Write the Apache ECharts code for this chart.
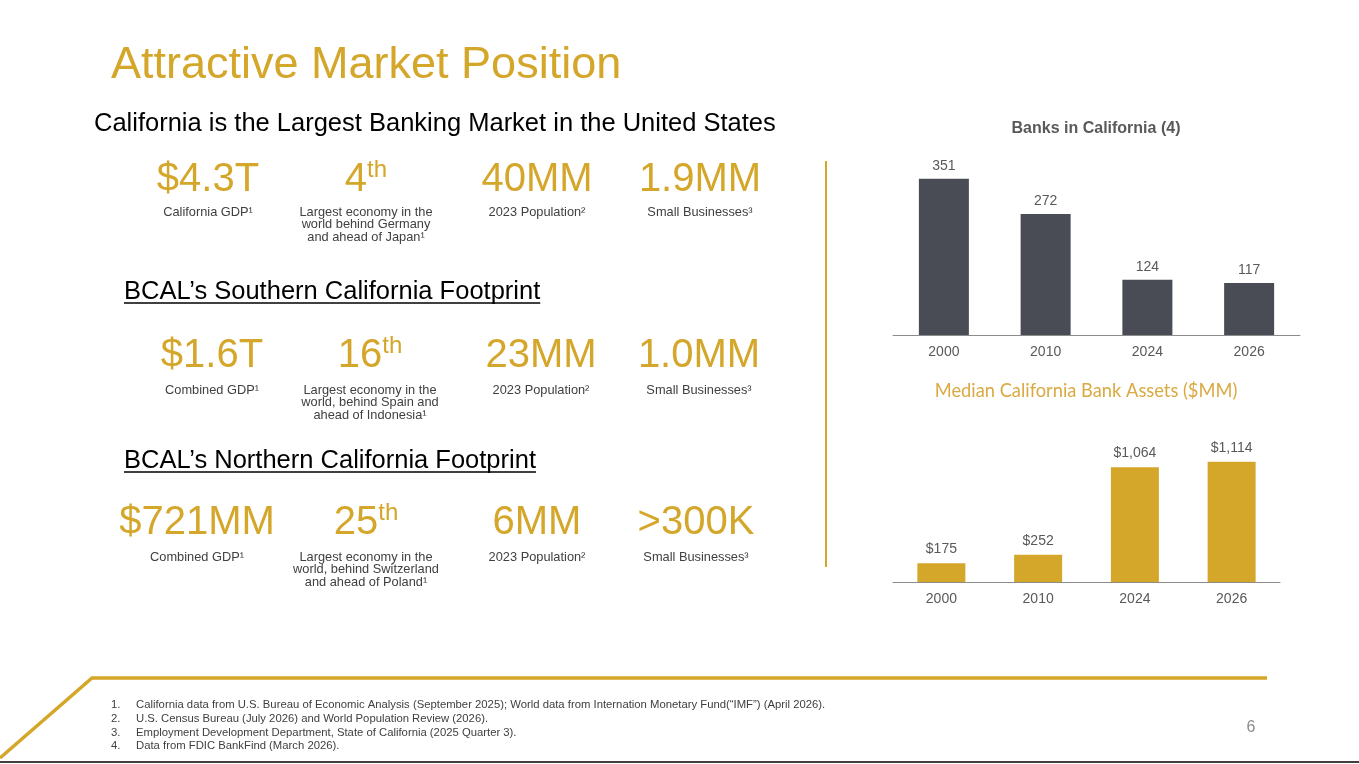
<!DOCTYPE html>
<html>
<head>
<meta charset="utf-8">
<title>Attractive Market Position</title>
<script src="https://cdn.jsdelivr.net/npm/echarts@6/dist/echarts.min.js"></script>
<style>
  html, body { margin: 0; padding: 0; background: #fff; }
  #mainContent { width: 1359px; height: 764px; }
</style>
</head>
<body>
<div id="mainContent"></div>
<script>
// data
var years = ['2000', '2010', '2024', '2026'];
var banksInCalifornia = [351, 272, 124, 117];
var medianBankAssets = [175, 252, 1064, 1114];

var pageTitle = 'Attractive Market Position';
var leadLine = 'California is the Largest Banking Market in the United States';
var sectionHeads = ['BCAL’s Southern California Footprint', 'BCAL’s Northern California Footprint'];

var caFigures = ['$4.3T', '4th', '40MM', '1.9MM'];
var caNotes = ['California GDP¹', 'Largest economy in the\nworld behind Germany\nand ahead of Japan¹', '2023 Population²', 'Small Businesses³'];
var socalFigures = ['$1.6T', '16th', '23MM', '1.0MM'];
var socalNotes = ['Combined GDP¹', 'Largest economy in the\nworld, behind Spain and\nahead of Indonesia¹', '2023 Population²', 'Small Businesses³'];
var norcalFigures = ['$721MM', '25th', '6MM', '>300K'];
var norcalNotes = ['Combined GDP¹', 'Largest economy in the\nworld, behind Switzerland\nand ahead of Poland¹', '2023 Population²', 'Small Businesses³'];

var footnotes = [
    'California data from U.S. Bureau of Economic Analysis (September 2025); World data from Internation Monetary Fund(“IMF”) (April 2026).',
    'U.S. Census Bureau (July 2026) and World Population Review (2026).',
    'Employment Development Department, State of California (2025 Quarter 3).',
    'Data from FDIC BankFind (March 2026).'
];

var GOLD = '#D4A62A';
var SANS = 'Arial, "Liberation Sans", sans-serif';

var myChart = echarts.init(document.getElementById('mainContent'));

// canvas measure, used for the underlines
var measureCtx = document.createElement('canvas').getContext('2d');
function textWidth(str, size) {
    measureCtx.font = size + 'px ' + SANS;
    return measureCtx.measureText(str).width;
}

var graphics = [];

function addText(x, y, text, style) {
    graphics.push({
        type: 'text', x: x, y: y, silent: true,
        style: Object.assign({ text: text, fontFamily: SANS }, style)
    });
}

function addLine(x1, y1, x2, y2, color, w) {
    graphics.push({
        type: 'line', silent: true,
        shape: { x1: x1, y1: y1, x2: x2, y2: y2 },
        style: { stroke: color, lineWidth: w }
    });
}

// headline + lead
addText(111, 66, pageTitle, { fill: GOLD, fontSize: 45, align: 'left', verticalAlign: 'middle' });
addText(94, 124, leadLine, { fill: '#000', fontSize: 25.5, align: 'left', verticalAlign: 'middle' });

// section heads with underline
var headY = [292, 461];
sectionHeads.forEach(function (h, i) {
    addText(124, headY[i], h, { fill: '#000', fontSize: 25.5, align: 'left', verticalAlign: 'middle' });
    addLine(124, headY[i] + 11, 124 + textWidth(h, 25.5), headY[i] + 11, '#000', 1.5);
});

// stat blocks
var statRows = [
    { figs: caFigures, notes: caNotes, cx: [208, 366, 537, 700], figY: 180, noteY: 206 },
    { figs: socalFigures, notes: socalNotes, cx: [212, 370, 541, 699], figY: 356, noteY: 384 },
    { figs: norcalFigures, notes: norcalNotes, cx: [197, 366, 537, 696], figY: 523, noteY: 551 }
];
statRows.forEach(function (row) {
    row.figs.forEach(function (f, j) {
        var m = f.match(/^(\d+)(st|nd|rd|th)$/);
        if (m) {
            addText(row.cx[j], row.figY, '{n|' + m[1] + '}{s|' + m[2] + '}', {
                fill: GOLD, align: 'center', verticalAlign: 'middle',
                rich: {
                    n: { fontSize: 40, fontFamily: SANS, fill: GOLD, lineHeight: 44 },
                    s: { fontSize: 24, fontFamily: SANS, fill: GOLD, verticalAlign: 'top', lineHeight: 24 }
                }
            });
        } else {
            addText(row.cx[j], row.figY, f, { fill: GOLD, fontSize: 40, align: 'center', verticalAlign: 'middle' });
        }
        addText(row.cx[j], row.noteY, row.notes[j], {
            fill: '#404040', fontSize: 12.8, lineHeight: 12.5, align: 'center', verticalAlign: 'top'
        });
    });
});

// chart titles
addText(1096, 129, 'Banks in California (4)', {
    fill: '#595959', fontSize: 16, fontWeight: 'bold', align: 'center', verticalAlign: 'middle'
});
addText(1086, 391, 'Median California Bank Assets ($MM)', {
    fill: '#DAA942', fontSize: 18.3, fontFamily: 'Lato, "Open Sans", sans-serif', align: 'center', verticalAlign: 'middle'
});

// divider + footer art
addLine(826, 161, 826, 567, GOLD, 2);
graphics.push({
    type: 'polyline', silent: true,
    shape: { points: [[0, 758], [92, 678], [1267, 678]] },
    style: { stroke: GOLD, lineWidth: 3.5, fill: null }
});
addLine(0, 762, 1359, 762, '#000', 1.5);

// footnotes
footnotes.forEach(function (t, i) {
    var y = 705 + i * 13.7;
    addText(111, y, (i + 1) + '.', { fill: '#404040', fontSize: 11.3, align: 'left', verticalAlign: 'middle' });
    addText(136, y, t, { fill: '#404040', fontSize: 11.3, align: 'left', verticalAlign: 'middle' });
});

addText(1251, 728, '6', { fill: '#8C8C8C', fontSize: 16, align: 'center', verticalAlign: 'middle' });

function money(v) {
    return '$' + v.toString().replace(/\B(?=(\d{3})+(?!\d))/g, ',');
}

option = {
    animation: false,
    grid: [
        { left: 893, width: 407, top: 157, height: 178 },
        { left: 893, width: 387, top: 431, height: 151 }
    ],
    xAxis: [
        {
            gridIndex: 0, type: 'category', data: years,
            axisLine: { lineStyle: { color: '#8C8C8C', width: 1 } },
            axisTick: { show: false },
            axisLabel: { color: '#595959', fontSize: 14, fontFamily: SANS, margin: 10 }
        },
        {
            gridIndex: 1, type: 'category', data: years,
            axisLine: { lineStyle: { color: '#8C8C8C', width: 1 } },
            axisTick: { show: false },
            axisLabel: { color: '#595959', fontSize: 14, fontFamily: SANS, margin: 10 }
        }
    ],
    yAxis: [
        { gridIndex: 0, type: 'value', min: 0, max: 400, show: false },
        { gridIndex: 1, type: 'value', min: 0, max: 1400, show: false }
    ],
    series: [
        {
            name: 'Banks in California',
            type: 'bar',
            xAxisIndex: 0, yAxisIndex: 0,
            barWidth: 50,
            itemStyle: { color: '#4A4C55' },
            label: { show: true, position: 'top', distance: 6, color: '#595959', fontSize: 14, fontFamily: SANS },
            data: banksInCalifornia
        },
        {
            name: 'Median California Bank Assets',
            type: 'bar',
            xAxisIndex: 1, yAxisIndex: 1,
            barWidth: 48,
            itemStyle: { color: GOLD },
            label: {
                show: true, position: 'top', distance: 7, color: '#595959', fontSize: 14, fontFamily: SANS,
                formatter: function (p) { return money(p.value); }
            },
            data: medianBankAssets
        }
    ],
    graphic: graphics
};

myChart.setOption(option);
</script>
</body>
</html>
